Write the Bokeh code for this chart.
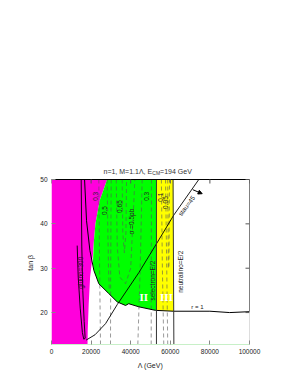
import math
from bokeh.plotting import figure
from bokeh.models import Label, FixedTicker, Arrow, NormalHead, BasicTickFormatter
from bokeh.embed import file_html
from bokeh.resources import INLINE

# ---- data (Lambda in GeV, tan beta) ----
x_ticks = [0, 20000, 40000, 60000, 80000, 100000]
y_ticks = [20, 30, 40, 50]
X_MIN, X_MAX, Y_MIN, Y_MAX = 0, 100000, 12.8, 50

magenta_x = [0, 18200, 18300, 18800, 19500, 20300, 20900, 21400, 22200, 24400, 28100, 0]
magenta_y = [12.8, 12.8, 16, 22, 28, 31, 33, 36, 40, 45.3, 50, 50]

green_x = [28100, 24400, 22200, 21400, 20900, 21400, 23900, 28900, 33200, 37400, 39000, 44100, 52500, 53000, 53000]
green_y = [50, 45.3, 40, 36, 31, 29.5, 26.5, 24.3, 22.4, 21.6, 22.0, 21.3, 20.5, 20.5, 50]

yellow_x = [53000, 61500, 61700, 53000]
yellow_y = [50, 50, 20.3, 20.5]

r1_x = [16700, 17700, 19400, 21400, 23900, 28900, 33200, 37400, 39000, 44100, 52500, 61700, 80000, 90000, 100000, 100000]
r1_y = [50, 40.7, 34, 29.5, 26.5, 24.3, 22.4, 21.6, 22.0, 21.3, 20.5, 20.3, 20.3, 20.0, 20.2, 50]

gluino_x = [15000, 15300, 15800, 16500, 17000, 16300, 15600, 14500, 13500, 12980]
gluino_y = [50, 35, 25, 18, 14.2, 14.0, 15.5, 21, 28, 35.1]

stau_x = [17500, 22000, 27300, 33200, 44100, 53000, 61800, 74400]
stau_y = [13.8, 15.0, 17.5, 21.8, 29.0, 35.5, 42.0, 50]

selectron_x = [53000, 53000]
selectron_y = [50, 12.8]
neutralino_x = [61400, 61800]
neutralino_y = [50, 12.8]

sigma_xs = [
    [23900, 24300, 24750],
    [28100, 28400, 28800, 29200],
    [30150, 29900, 29800],
    [32700, 33200, 34500, 37400, 40000, 42100],
    [35700, 36000, 36800, 37600, 37900],
    [45800, 44800, 43600],
    [50500, 50400, 50350],
    [55500, 56000, 56700],
    [57600, 58200, 58700],
    [58700, 59000, 59300, 59600],
]
sigma_ys = [
    [50, 30, 12.8],
    [50, 40, 30, 25],
    [50, 30, 12.8],
    [50, 35, 28, 26.5, 30, 50],
    [50, 38, 33.5, 38, 50],
    [50, 30, 12.8],
    [50, 30, 12.8],
    [50, 30, 12.8],
    [50, 30, 12.8],
    [50, 30, 30, 50],
]

contour_labels = ["0.3", "0.5", "0.65", "\u03c3 =0.5pb", "0.3", "0.1", "0.05"]
contour_lx = [21970, 26770, 34300, 40400, 48230, 55050, 57700]
contour_ly = [46.2, 43.0, 43.9, 40.5, 46.2, 46.0, 44.8]

title_parts = ["n=1, M=1.1\u039b, E", "CM", "=194 GeV"]

FONT = "Liberation Sans"
FRAME_W, FRAME_H = 198, 165          # pixel size of the 0..100000 x 12.8..50 box
TITLE_ROOM = 14                      # extra pixels above tan(beta)=50 for the title
px_x = (X_MAX - X_MIN) / FRAME_W
px_y = (Y_MAX - Y_MIN) / FRAME_H
Y_TOP = Y_MAX + TITLE_ROOM * px_y

p = figure(width=292, height=380, x_range=(X_MIN, X_MAX), y_range=(Y_MIN, Y_TOP),
           output_backend="svg", toolbar_location=None,
           min_border_left=51, min_border_right=43, min_border_top=179 - TITLE_ROOM,
           min_border_bottom=36)
p.grid.visible = False
p.outline_line_color = None
p.background_fill_color = "white"
p.title.visible = False

p.patch(magenta_x, magenta_y, fill_color="#ff00dc", line_color=None)
p.patch(green_x, green_y, fill_color="#00ff00", line_color=None)
p.patch(yellow_x, yellow_y, fill_color="#ffff00", line_color=None)

for xs, ys in zip(sigma_xs, sigma_ys):
    p.line(xs, ys, line_color="#555555", line_dash="4 3", line_width=0.8, line_alpha=0.75)

p.line(r1_x, r1_y, line_color="black", line_width=1.0)
p.line(gluino_x, gluino_y, line_color="black", line_width=0.9)
p.line(stau_x, stau_y, line_color="black", line_width=0.9)
p.line(selectron_x, selectron_y, line_color="#333333", line_width=1.0)
p.line(neutralino_x, neutralino_y, line_color="#333333", line_width=1.0)

# frame: top border, right border below r=1, mirror ticks on top / right
p.line([X_MIN, X_MAX], [Y_MAX, Y_MAX], line_color="black", line_width=1.0)
p.line([X_MAX, X_MAX], [Y_MIN, 20.2], line_color="#bbbbbb", line_width=1.0)
p.segment(x0=x_ticks, y0=[Y_MAX] * len(x_ticks), x1=x_ticks, y1=[Y_MAX - 4 * px_y] * len(x_ticks),
          line_color="#555555", line_width=1)
p.segment(x0=[X_MAX] * len(y_ticks), y0=y_ticks, x1=[X_MAX - 4 * px_x] * len(y_ticks), y1=y_ticks,
          line_color="#555555", line_width=1)

p.add_layout(Arrow(end=NormalHead(size=4, fill_color="black", line_color="black"),
                   x_start=71360, y_start=47.7, x_end=76110, y_end=46.8,
                   line_color="black", line_width=1.0))

def lab(text, x, y, angle=0.0, size="7px", color="black", font=FONT, style="normal",
        align="center"):
    p.add_layout(Label(x=x, y=y, text=text, angle=angle, text_font=font,
                       text_font_size=size, text_color=color, text_align=align,
                       text_baseline="middle", text_font_style=style))

for t, lx, ly in zip(contour_labels, contour_lx, contour_ly):
    lab(t, lx, ly, angle=math.pi / 2, size="6.5px", color="#222222")

lab("gluino=300", 14650, 29.0, angle=math.pi / 2, size="6.5px", color="#330033")
lab("selectron=E/2", 51000, 27.2, angle=math.pi / 2, size="6.5px", color="#222222")
lab("neutralino=E/2", 64900, 29.2, angle=math.pi / 2, size="6.5px", color="#222222")
lab("stau=45", 68200, 44.1, angle=math.radians(53), size="6.5px", color="#222222")
lab("r = 1", 73700, 21.2, size="6px", color="#222222")
lab("II", 46600, 23.6, size="11px", color="white", font="Liberation Serif", style="bold")
lab("III", 58080, 23.6, size="11px", color="white", font="Liberation Serif", style="bold")

# title with subscript, just above tan(beta)=50
ty = Y_MAX + 8.5 * px_y
lab(title_parts[0], X_MIN + 52 * px_x, ty, size="7px", color="#333333", align="left")
lab(title_parts[1], X_MIN + 100.8 * px_x, ty - 2.2 * px_y, size="5px", color="#333333", align="left")
lab(title_parts[2], X_MIN + 108.6 * px_x, ty, size="7px", color="#333333", align="left")

for ax in [p.xaxis[0], p.yaxis[0]]:
    ax.major_label_text_font = FONT
    ax.major_label_text_font_size = "6.5px"
    ax.major_label_text_color = "#222222"
    ax.axis_label_text_font = FONT
    ax.axis_label_text_font_size = "7px"
    ax.axis_label_text_font_style = "normal"
    ax.axis_label_text_color = "#222222"
    ax.major_tick_in = 4
    ax.major_tick_out = 0
    ax.minor_tick_in = 0
    ax.minor_tick_out = 0
    ax.major_label_standoff = 4

p.xaxis[0].ticker = FixedTicker(ticks=x_ticks)
p.xaxis[0].formatter = BasicTickFormatter(use_scientific=False)
p.xaxis[0].axis_label = "\u039b (GeV)"
p.xaxis[0].axis_label_standoff = 5
p.xaxis[0].axis_line_color = "#c8f0c8"
p.xaxis[0].major_tick_line_color = "#888888"
p.yaxis[0].ticker = FixedTicker(ticks=y_ticks)
# trailing no-break spaces shift the rotated label down to the centre of the 12.8..50 box
p.yaxis[0].axis_label = "tan \u03b2" + "\u00a0" * 8
p.yaxis[0].axis_label_standoff = 3
p.yaxis[0].axis_line_color = None
p.yaxis[0].major_tick_line_color = "#888888"

open("out.html", "w").write(file_html(p, INLINE))
